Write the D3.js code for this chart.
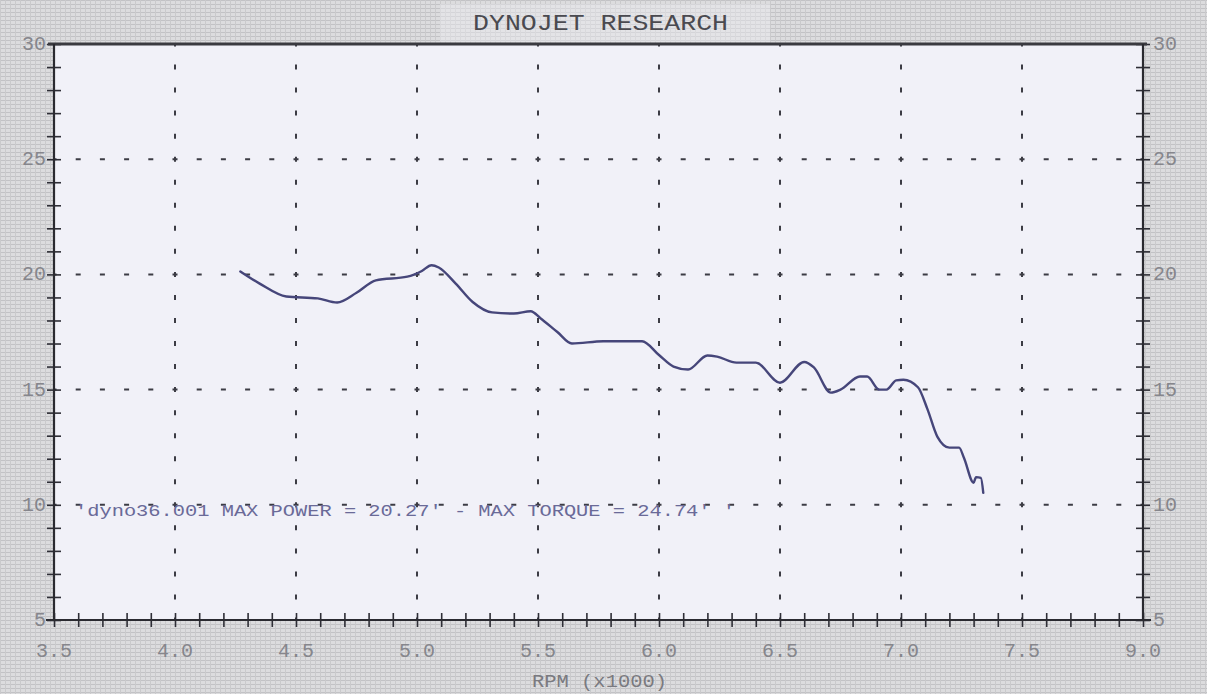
<!DOCTYPE html>
<html>
<head>
<meta charset="utf-8">
<script src="https://cdn.jsdelivr.net/npm/d3@7"></script>
<style>
  html, body { margin: 0; padding: 0; background: #d3d3d5; }
  svg { display: block; }
</style>
</head>
<body>
<div class="plot"></div>
<script>
// Dyno run values
const rpm = [4.27, 4.35, 4.46, 4.59, 4.67, 4.75, 4.83, 4.96, 5.02, 5.06,
             5.09, 5.16, 5.23, 5.31, 5.40, 5.47, 5.51, 5.58, 5.64, 5.77,
             5.93, 6.00, 6.06, 6.12, 6.20, 6.24, 6.32, 6.40, 6.50, 6.60,
             6.64, 6.71, 6.75, 6.83, 6.86, 6.91, 6.94, 6.98, 7.01, 7.07,
             7.11, 7.15, 7.20, 7.24, 7.26, 7.30, 7.31, 7.33, 7.34];
const power = [20.13, 19.6, 19.04, 18.96, 18.78, 19.2, 19.74, 19.9, 20.15, 20.4,
               20.3, 19.6, 18.8, 18.35, 18.3, 18.4, 18.1, 17.5, 17.0, 17.1,
               17.1, 16.5, 16.0, 15.87, 16.48, 16.43, 16.17, 16.17, 15.3, 16.2,
               15.96, 14.87, 15.0, 15.57, 15.57, 15.0, 15.0, 15.4, 15.43, 15.1,
               14.13, 12.96, 12.48, 12.48, 12.04, 10.96, 11.2, 11.17, 10.52];

const xTicks = [3.5, 4.0, 4.5, 5.0, 5.5, 6.0, 6.5, 7.0, 7.5, 8.0];
const xTickLabels = ["3.5", "4.0", "4.5", "5.0", "5.5", "6.0", "6.5", "7.0", "7.5", "9.0"];
const yTicks = [5, 10, 15, 20, 25, 30];
const xGrid = [4.0, 4.5, 5.0, 5.5, 6.0, 6.5, 7.0, 7.5];
const yGrid = [10, 15, 20, 25];

const title = "DYNOJET RESEARCH";
const xTitle = "RPM (x1000)";
const note = "'dyno36.001 MAX POWER = 20.27' - MAX TORQUE = 24.74' '";

const W = 1207, H = 694;
const margin = {top: 44, right: 64, bottom: 74, left: 54};
const mono = "'Liberation Mono', 'DejaVu Sans Mono', monospace";

const svg = d3.select(".plot")
    .append("svg")
        .attr("width", W)
        .attr("height", H);

// scanned graph-paper texture for the surround
const defs = svg.append("defs");
const pat = defs.append("pattern")
    .attr("id", "paper")
    .attr("width", 5)
    .attr("height", 4)
    .attr("patternUnits", "userSpaceOnUse");
pat.append("rect").attr("width", 5).attr("height", 4).attr("fill", "#dcdcde");
pat.append("line").attr("x1", 0).attr("x2", 5).attr("y1", 0.5).attr("y2", 0.5)
    .attr("stroke", "#c2c2c5").attr("stroke-width", 1);
pat.append("line").attr("x1", 0.5).attr("x2", 0.5).attr("y1", 0).attr("y2", 4)
    .attr("stroke", "#cacacc").attr("stroke-width", 1);

svg.append("rect")
    .attr("width", W)
    .attr("height", H)
    .attr("fill", "url(#paper)");

const x = d3.scaleLinear()
    .domain([3.5, 8.0])
    .range([margin.left, W - margin.right]);
const y = d3.scaleLinear()
    .domain([5, 30])
    .range([H - margin.bottom, margin.top]);

// plot face
svg.append("rect")
    .attr("x", x(3.5))
    .attr("y", y(30))
    .attr("width", x(8.0) - x(3.5))
    .attr("height", y(5) - y(30))
    .attr("fill", "#f1f1f8");

// faint lighter band behind the title
svg.append("rect")
    .attr("x", 440).attr("y", 4)
    .attr("width", 330).attr("height", 38)
    .attr("fill", "#ececf0")
    .attr("opacity", 0.45);

// dashed grid, dashes lined up on the minor tick spacing
const xStep = x(3.6) - x(3.5);
const yStep = y(5) - y(6);

svg.append("g")
    .selectAll("line")
    .data(yGrid)
    .enter()
    .append("line")
        .attr("x1", x(3.5))
        .attr("x2", x(8.0))
        .attr("y1", d => y(d))
        .attr("y2", d => y(d))
        .attr("stroke", "#3c3c44")
        .attr("stroke-width", 2)
        .attr("stroke-dasharray", `5 ${xStep - 5}`)
        .attr("stroke-dashoffset", 2.5);

svg.append("g")
    .selectAll("line")
    .data(xGrid)
    .enter()
    .append("line")
        .attr("x1", d => x(d))
        .attr("x2", d => x(d))
        .attr("y1", y(30))
        .attr("y2", y(5))
        .attr("stroke", "#3c3c44")
        .attr("stroke-width", 2)
        .attr("stroke-dasharray", `5 ${yStep - 5}`)
        .attr("stroke-dashoffset", 2.5);

// axes: minor ticks crossing the frame lines
const xMinor = d3.range(35, 81).map(d => d / 10);
const yMinor = d3.range(5, 31);

const xAxis = d3.axisBottom(x)
    .tickValues(xMinor)
    .tickSizeInner(14)
    .tickSizeOuter(0)
    .tickFormat("");
svg.append("g")
    .attr("transform", `translate(0, ${y(5) - 7})`)
    .call(xAxis)
    .call(g => g.select(".domain").remove())
    .selectAll("line")
        .attr("stroke", "#2e2e36")
        .attr("stroke-width", 1.6);

const yAxisL = d3.axisRight(y)
    .tickValues(yMinor)
    .tickSizeInner(14)
    .tickSizeOuter(0)
    .tickFormat("");
svg.append("g")
    .attr("transform", `translate(${x(3.5) - 7}, 0)`)
    .call(yAxisL)
    .call(g => g.select(".domain").remove())
    .selectAll("line")
        .attr("stroke", "#2e2e36")
        .attr("stroke-width", 1.6);

svg.append("g")
    .attr("transform", `translate(${x(8.0) - 7}, 0)`)
    .call(yAxisL)
    .call(g => g.select(".domain").remove())
    .selectAll("line")
        .attr("stroke", "#2e2e36")
        .attr("stroke-width", 1.6);

// frame lines
const frame = svg.append("g")
    .attr("stroke", "#2a2a30")
    .attr("stroke-width", 2.2);
frame.append("line")
    .attr("x1", x(3.5) - 6).attr("x2", x(8.0) + 4)
    .attr("y1", y(30)).attr("y2", y(30))
    .attr("stroke", "#3a3a40")
    .attr("stroke-width", 3);
frame.append("line")
    .attr("x1", x(3.5) - 8).attr("x2", x(8.0) + 8)
    .attr("y1", y(5)).attr("y2", y(5));
frame.append("line")
    .attr("x1", x(3.5)).attr("x2", x(3.5))
    .attr("y1", y(30)).attr("y2", y(5));
frame.append("line")
    .attr("x1", x(8.0)).attr("x2", x(8.0))
    .attr("y1", y(30)).attr("y2", y(5));

// tick labels
svg.append("g")
    .selectAll("text")
    .data(xTicks)
    .enter()
    .append("text")
        .attr("x", d => x(d))
        .attr("y", y(5) + 37)
        .attr("text-anchor", "middle")
        .style("font-family", mono)
        .style("font-size", "20px")
        .style("fill", "#86868c")
        .text((d, i) => xTickLabels[i]);

svg.append("g")
    .selectAll("text")
    .data(yTicks)
    .enter()
    .append("text")
        .attr("x", x(3.5) - 8)
        .attr("y", d => y(d) + 6)
        .attr("text-anchor", "end")
        .style("font-family", mono)
        .style("font-size", "20px")
        .style("fill", "#86868c")
        .text(d => d);

svg.append("g")
    .selectAll("text")
    .data(yTicks)
    .enter()
    .append("text")
        .attr("x", x(8.0) + 10)
        .attr("y", d => y(d) + 6)
        .attr("text-anchor", "start")
        .style("font-family", mono)
        .style("font-size", "20px")
        .style("fill", "#86868c")
        .text(d => d);

// titles
svg.append("text")
    .attr("x", 473)
    .attr("y", 30)
    .attr("textLength", 255)
    .attr("lengthAdjust", "spacingAndGlyphs")
    .style("font-family", mono)
    .style("font-size", "22px")
    .style("fill", "#4a4a50")
    .text(title);

svg.append("text")
    .attr("x", 532)
    .attr("y", 687)
    .attr("textLength", 135)
    .attr("lengthAdjust", "spacingAndGlyphs")
    .style("font-family", mono)
    .style("font-size", "19px")
    .style("fill", "#7a7a80")
    .text(xTitle);

// run annotation
svg.append("text")
    .attr("x", 75)
    .attr("y", 516)
    .attr("textLength", 660)
    .attr("lengthAdjust", "spacingAndGlyphs")
    .style("font-family", mono)
    .style("font-size", "17px")
    .style("fill", "#6a6a98")
    .text(note);

// power curve
const line = d3.line()
    .x(d => x(d[0]))
    .y(d => y(d[1]))
    .curve(d3.curveMonotoneX);

svg.append("path")
    .datum(d3.zip(rpm, power))
    .attr("fill", "none")
    .attr("stroke", "#46467a")
    .attr("stroke-width", 2.4)
    .attr("stroke-linejoin", "round")
    .attr("stroke-linecap", "round")
    .attr("d", line);
</script>
</body>
</html>
